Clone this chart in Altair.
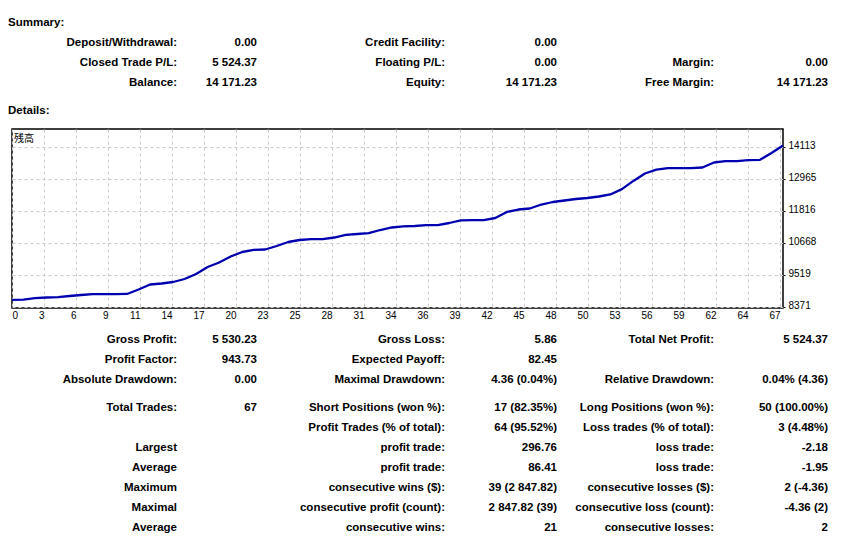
import altair as alt
import pandas as pd

# ---------------- data ----------------
balance = [8646.86, 8652, 8704, 8729, 8740, 8783, 8819, 8847, 8850, 8853, 8856,
           9016, 9195, 9231, 9284, 9392, 9571, 9822, 9983, 10198, 10359, 10438,
           10449, 10574, 10717, 10789, 10818, 10821, 10878, 10975, 11004, 11032,
           11147, 11237, 11280, 11290, 11319, 11322, 11398, 11495, 11498, 11501,
           11577, 11792, 11881, 11917, 12060, 12150, 12204, 12257, 12293, 12347,
           12419, 12610, 12905, 13171, 13307, 13361, 13364, 13367, 13386, 13565,
           13611, 13614, 13647, 13661, 13905, 14171.23]
trades = list(range(len(balance)))

x_tick_labels = [0, 3, 6, 9, 11, 14, 17, 20, 23, 25, 28, 31, 34, 36, 39, 42,
                 45, 48, 50, 53, 56, 59, 62, 64, 67]
y_tick_values = [8371, 9519, 10668, 11816, 12965, 14113]
chart_title = "残高"

headers = ["Summary:", "Details:"]

sum_labels_1 = ["Deposit/Withdrawal:", "Closed Trade P/L:", "Balance:"]
sum_values_1 = ["0.00", "5 524.37", "14 171.23"]
sum_labels_2 = ["Credit Facility:", "Floating P/L:", "Equity:"]
sum_values_2 = ["0.00", "0.00", "14 171.23"]
sum_labels_3 = ["", "Margin:", "Free Margin:"]
sum_values_3 = ["", "0.00", "14 171.23"]

det_labels_1 = ["Gross Profit:", "Profit Factor:", "Absolute Drawdown:", "Total Trades:", "",
                "Largest", "Average", "Maximum", "Maximal", "Average"]
det_values_1 = ["5 530.23", "943.73", "0.00", "67", "", "", "", "", "", ""]
det_labels_2 = ["Gross Loss:", "Expected Payoff:", "Maximal Drawdown:", "Short Positions (won %):",
                "Profit Trades (% of total):", "profit trade:", "profit trade:",
                "consecutive wins ($):", "consecutive profit (count):", "consecutive wins:"]
det_values_2 = ["5.86", "82.45", "4.36 (0.04%)", "17 (82.35%)", "64 (95.52%)", "296.76",
                "86.41", "39 (2 847.82)", "2 847.82 (39)", "21"]
det_labels_3 = ["Total Net Profit:", "", "Relative Drawdown:", "Long Positions (won %):",
                "Loss trades (% of total):", "loss trade:", "loss trade:",
                "consecutive losses ($):", "consecutive loss (count):", "consecutive losses:"]
det_values_3 = ["5 524.37", "", "0.04% (4.36)", "50 (100.00%)", "3 (4.48%)", "-2.18",
                "-1.95", "2 (-4.36)", "-4.36 (2)", "2"]

# ---------------- layout constants ----------------
PLOT_W = 771
PLOT_H = 179
TOP_H = 120.5
BOT_H = 222
GRID_PX = 32
FONT_TXT = "Liberation Sans"
FONT_AX = "Liberation Sans"

# column scale: header, label1, value1, label2, value2, label3, value3
col_scale = alt.Scale(domain=[-1, 0, 1, 2, 3, 4, 5],
                      range=[-4, 165, 245, 433, 545, 702, 816], nice=False, zero=False)


def table_frame(columns):
    recs = []
    for c, texts in enumerate(columns):
        for r, t in enumerate(texts):
            if t:
                recs.append({"row": r, "col": c, "text": t})
    return pd.DataFrame(recs)


def text_panel(df, head_df, y_scale, height):
    enc = dict(
        x=alt.X("col:Q", scale=col_scale, axis=None),
        y=alt.Y("row:Q", scale=y_scale, axis=None),
        text="text:N",
    )
    body = alt.Chart(df).mark_text(align="right", baseline="middle", font=FONT_TXT,
                                   fontSize=11.5, fontWeight="bold", color="black").encode(**enc)
    layers = [body]
    if head_df is not None:
        head = alt.Chart(head_df).mark_text(align="left", baseline="middle", font=FONT_TXT,
                                            fontSize=11.5, fontWeight="bold",
                                            color="black").encode(**enc)
        layers.append(head)
    return alt.layer(*layers).properties(width=PLOT_W, height=height)


sum_df = table_frame([sum_labels_1, sum_values_1, sum_labels_2, sum_values_2,
                      sum_labels_3, sum_values_3])
head_df = pd.DataFrame({"row": [-1, 3], "col": [-1, -1], "text": headers})
top = text_panel(sum_df, head_df,
                 alt.Scale(domain=[-1, 0, 2, 3], range=[14.5, 35.3, 75.3, 103],
                           nice=False, zero=False), TOP_H)

det_df = table_frame([det_labels_1, det_values_1, det_labels_2, det_values_2,
                      det_labels_3, det_values_3])
bottom = text_panel(det_df, None,
                    alt.Scale(domain=[0, 2, 3, 9], range=[32, 72, 100.2, 220.2],
                              nice=False, zero=False), BOT_H)

# ---------------- balance chart ----------------
x_max = trades[-1]
step = x_max * GRID_PX / PLOT_W
grid_vals = [i * step for i in range(len(x_tick_labels))]
label_expr = "[" + ",".join(f"'{v}'" for v in x_tick_labels) + f"][round(datum.value / {step})]"

line_df = pd.DataFrame({"trade": trades, "balance": balance})
line = alt.Chart(line_df).mark_line(color="#0000b0", strokeWidth=2.3, strokeJoin="round",
                                    strokeCap="butt").encode(
    x=alt.X("trade:Q",
            scale=alt.Scale(domain=[0, x_max], nice=False, zero=False),
            axis=alt.Axis(values=grid_vals, labelExpr=label_expr, title=None,
                          grid=True, gridDash=[3, 3], gridColor="#c8c8c8", gridWidth=1,
                          domain=False, ticks=False, labelFlush=False,
                          labelAlign={"condition": {"test": "datum.value == 0", "value": "left"},
                                      "value": "right"},
                          labelBaseline="top", labelPadding=2, labelFont=FONT_AX,
                          labelFontSize=10, labelColor="black", labelOverlap=False)),
    y=alt.Y("balance:Q",
            scale=alt.Scale(domain=[8353, 14765], nice=False, zero=False),
            axis=alt.Axis(orient="right", values=y_tick_values, format="d", title=None,
                          grid=True, gridDash=[3, 3], gridColor="#c8c8c8", gridWidth=1,
                          domain=False, tickSize=2, tickColor="black", tickWidth=1,
                          labelPadding=3, labelFont=FONT_AX, labelFontSize=10,
                          labelColor="black", labelBaseline="middle", labelOffset=-2,
                          labelOverlap=False)),
).properties(
    width=PLOT_W, height=PLOT_H,
    title=alt.TitleParams(chart_title, anchor="start", orient="top", frame="group",
                          offset=-9, dx=2, dy=10.5, font="Noto Sans CJK JP", fontSize=10,
                          fontWeight="normal", color="black", baseline="middle"),
    view=alt.ViewBackground(stroke="black", strokeWidth=1.5),
)

chart = alt.vconcat(top, line, bottom, spacing=0, bounds="flush").properties(
    padding=0, background="white"
).configure_view(strokeWidth=0)

chart.save("out.html", embed_options={"renderer": "svg", "actions": False})
